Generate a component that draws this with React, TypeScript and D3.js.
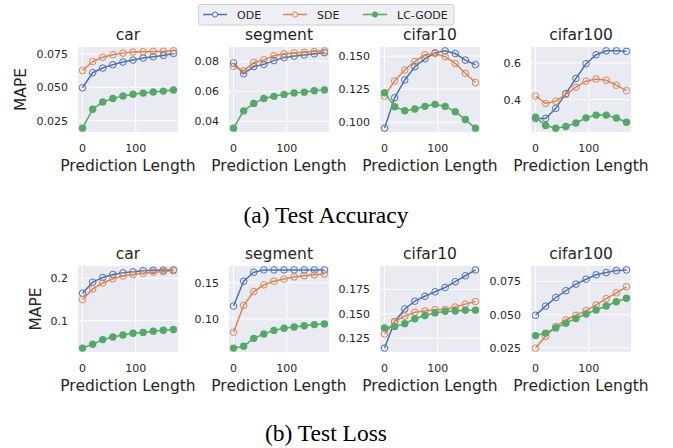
import React from "react";
import * as d3 from "d3";

const steps = [0, 19, 38, 57, 76, 95, 114, 133, 152, 171];
const datasets = ["car", "segment", "cifar10", "cifar100"];
const methods = ["ODE", "SDE", "LC-GODE"];
const colors = ["#4c72b0", "#dd8452", "#55a868"];

// (a) Test Accuracy, one row per dataset
const accODE = [
  [0.0497, 0.061, 0.0645, 0.067, 0.069, 0.0705, 0.072, 0.073, 0.074, 0.0755],
  [0.0789, 0.0718, 0.0765, 0.078, 0.0805, 0.0825, 0.0835, 0.0843, 0.085, 0.0858],
  [0.0955, 0.1185, 0.132, 0.142, 0.148, 0.1525, 0.154, 0.152, 0.147, 0.1435],
  [0.297, 0.297, 0.352, 0.432, 0.515, 0.595, 0.644, 0.665, 0.665, 0.662],
];
const accSDE = [
  [0.0626, 0.0694, 0.0726, 0.0745, 0.0757, 0.0765, 0.0767, 0.077, 0.0771, 0.0774],
  [0.0767, 0.0737, 0.0793, 0.081, 0.0837, 0.085, 0.0856, 0.086, 0.0866, 0.087],
  [0.1198, 0.1313, 0.1395, 0.146, 0.151, 0.152, 0.1496, 0.1445, 0.137, 0.13],
  [0.419, 0.379, 0.391, 0.428, 0.467, 0.5, 0.512, 0.505, 0.478, 0.448],
];
const accGODE = [
  [0.0194, 0.0336, 0.039, 0.0416, 0.0436, 0.0448, 0.0457, 0.0465, 0.0472, 0.048],
  [0.0355, 0.047, 0.052, 0.0553, 0.0567, 0.058, 0.059, 0.0595, 0.0604, 0.061],
  [0.1223, 0.1117, 0.1087, 0.11, 0.112, 0.1135, 0.112, 0.108, 0.102, 0.0955],
  [0.303, 0.258, 0.244, 0.253, 0.272, 0.3, 0.315, 0.315, 0.299, 0.276],
];

// (b) Test Loss
const lossODE = [
  [0.165, 0.191, 0.202, 0.209, 0.213, 0.2155, 0.218, 0.219, 0.2195, 0.22],
  [0.1177, 0.152, 0.1645, 0.1677, 0.1677, 0.1677, 0.1677, 0.1677, 0.1677, 0.1677],
  [0.115, 0.142, 0.155, 0.163, 0.168, 0.1726, 0.177, 0.183, 0.189, 0.195],
  [0.0495, 0.0564, 0.0629, 0.068, 0.073, 0.0767, 0.08, 0.0817, 0.0832, 0.0837],
];
const lossSDE = [
  [0.1496, 0.175, 0.189, 0.199, 0.2055, 0.209, 0.212, 0.2147, 0.216, 0.218],
  [0.0814, 0.1186, 0.1377, 0.147, 0.152, 0.155, 0.158, 0.1595, 0.161, 0.162],
  [0.1295, 0.142, 0.1477, 0.1517, 0.153, 0.1544, 0.1544, 0.157, 0.16, 0.1627],
  [0.0248, 0.0337, 0.041, 0.046, 0.0495, 0.053, 0.0574, 0.062, 0.0664, 0.071],
];
const lossGODE = [
  [0.0349, 0.044, 0.055, 0.061, 0.066, 0.07, 0.072, 0.075, 0.077, 0.079],
  [0.0595, 0.062, 0.073, 0.079, 0.084, 0.087, 0.0886, 0.0905, 0.092, 0.093],
  [0.1356, 0.137, 0.14, 0.145, 0.1483, 0.151, 0.1527, 0.153, 0.1537, 0.1537],
  [0.0342, 0.0361, 0.04, 0.0436, 0.047, 0.0505, 0.0535, 0.0565, 0.0597, 0.0624],
];

const xTicks = ["0", "100"];
const accTicks = [
  ["0.025", "0.050", "0.075"],
  ["0.04", "0.06", "0.08"],
  ["0.100", "0.125", "0.150"],
  ["0.4", "0.6"],
];
const lossTicks = [
  ["0.1", "0.2"],
  ["0.10", "0.15"],
  ["0.125", "0.150", "0.175"],
  ["0.025", "0.050", "0.075"],
];

const W = 673;
const H = 448;
const panelLeft = [78, 229, 380, 531];
const panelW = 100;
const txt = "#262626";
const sans = "DejaVu Sans";

function padExtent(vals: number[]): [number, number] {
  const [a, b] = d3.extent(vals) as [number, number];
  const p = (b - a) * 0.05;
  return [a - p, b + p];
}

function Panel({ id, left, top, h, title, series, ticks, yLabelX }: any) {
  const x = d3.scaleLinear().domain(padExtent(steps)).range([left, left + panelW]);
  const y = d3.scaleLinear().domain(padExtent(series.flat())).range([top + h, top]);
  const line = d3.line<number>().x((_, i) => x(steps[i])).y((d) => y(d));
  return (
    <g>
      <defs>
        <clipPath id={id}>
          <rect x={left} y={top} width={panelW} height={h} />
        </clipPath>
      </defs>
      <rect x={left} y={top} width={panelW} height={h} fill="#eaeaf2" />
      {xTicks.map((t) => (
        <g key={t}>
          <line x1={x(+t)} x2={x(+t)} y1={top} y2={top + h} stroke="#fff" strokeWidth={1} />
          <text x={x(+t)} y={top + h + 20} textAnchor="middle" fontSize={11} fill={txt} fontFamily={sans}>
            {t}
          </text>
        </g>
      ))}
      {ticks.map((t: string) => (
        <g key={t}>
          <line x1={left} x2={left + panelW} y1={y(+t)} y2={y(+t)} stroke="#fff" strokeWidth={1} />
          <text x={left - 10} y={y(+t) + 4} textAnchor="end" fontSize={11} fill={txt} fontFamily={sans}>
            {t}
          </text>
        </g>
      ))}
      <g clipPath={`url(#${id})`}>
        {series.map((s: number[], k: number) => (
          <g key={k}>
            <path d={line(s) || ""} fill="none" stroke={colors[k]} strokeWidth={1.5} />
            {s.map((v, i) =>
              k < 2 ? (
                <circle key={i} cx={x(steps[i])} cy={y(v)} r={3.3} fill="none" stroke={colors[k]} strokeWidth={1} />
              ) : (
                <circle key={i} cx={x(steps[i])} cy={y(v)} r={3.7} fill={colors[k]} />
              )
            )}
          </g>
        ))}
      </g>
      <text x={left + panelW / 2} y={top - 7} textAnchor="middle" fontSize={15.5} fill={txt} fontFamily={sans}>
        {title}
      </text>
      <text x={left + panelW / 2} y={top + h + 39} textAnchor="middle" fontSize={15.5} fill={txt} fontFamily={sans}>
        Prediction Length
      </text>
      {yLabelX != null && (
        <text
          transform={`translate(${yLabelX},${top + h / 2}) rotate(-90)`}
          textAnchor="middle"
          fontSize={15.5}
          fill={txt}
          fontFamily={sans}
        >
          MAPE
        </text>
      )}
    </g>
  );
}

export default function App() {
  const accSeries = datasets.map((_, i) => [accODE[i], accSDE[i], accGODE[i]]);
  const lossSeries = datasets.map((_, i) => [lossODE[i], lossSDE[i], lossGODE[i]]);
  const legendX = [203, 283, 363];
  return (
    <svg width={W} height={H} style={{ position: "absolute", left: 0, top: 0, background: "#fff" }}>
      {/* legend */}
      <rect x={198.5} y={4.5} width={255.5} height={20.5} rx={2.5} fill="#eeeef4" stroke="#d0d0d0" strokeWidth={1} />
      {methods.map((m, k) => (
        <g key={m}>
          <line x1={legendX[k]} x2={legendX[k] + 24} y1={14.5} y2={14.5} stroke={colors[k]} strokeWidth={1.5} />
          {k < 2 ? (
            <circle cx={legendX[k] + 12} cy={14.5} r={2.6} fill="#eeeef4" stroke={colors[k]} strokeWidth={1} />
          ) : (
            <circle cx={legendX[k] + 12} cy={14.5} r={2.9} fill={colors[k]} />
          )}
          <text x={legendX[k] + 34} y={18.5} fontSize={11} fill={txt} fontFamily={sans}>
            {m}
          </text>
        </g>
      ))}

      {datasets.map((d, i) => (
        <Panel
          key={"a" + d}
          id={"ca" + i}
          left={panelLeft[i]}
          top={47}
          h={85}
          title={d}
          series={accSeries[i]}
          ticks={accTicks[i]}
          yLabelX={i === 0 ? 26 : null}
        />
      ))}
      {datasets.map((d, i) => (
        <Panel
          key={"b" + d}
          id={"cb" + i}
          left={panelLeft[i]}
          top={266}
          h={86}
          title={d}
          series={lossSeries[i]}
          ticks={lossTicks[i]}
          yLabelX={i === 0 ? 41 : null}
        />
      ))}

      <text x={326} y={223} textAnchor="middle" fontSize={23.5} fontFamily="Liberation Serif" fill="#000">
        (a) Test Accuracy
      </text>
      <text x={326} y={441} textAnchor="middle" fontSize={23.5} fontFamily="Liberation Serif" fill="#000">
        (b) Test Loss
      </text>
    </svg>
  );
}
